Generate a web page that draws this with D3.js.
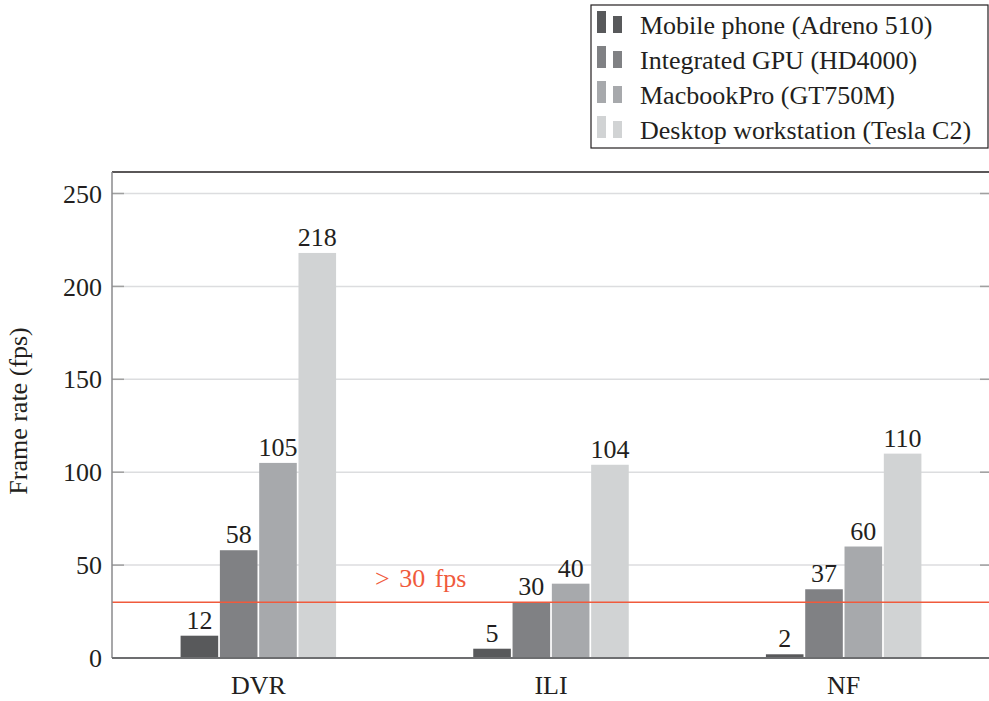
<!DOCTYPE html>
<html>
<head>
<meta charset="utf-8">
<script src="https://cdn.jsdelivr.net/npm/d3@7"></script>
<style>
  body { margin: 0; background: #fff; }
  svg text { font-family: "Liberation Serif", "Times New Roman", serif; fill: #231f20; }
</style>
</head>
<body>
<div id="chart"></div>
<script>
// Data
const categories = ["DVR", "ILI", "NF"];
const seriesNames = [
  "Mobile phone (Adreno 510)",
  "Integrated GPU (HD4000)",
  "MacbookPro (GT750M)",
  "Desktop workstation (Tesla C2)"
];
const mobileValues = [12, 5, 2];
const integratedValues = [58, 30, 37];
const macbookValues = [105, 40, 60];
const desktopValues = [218, 104, 110];
const yTicks = [0, 50, 100, 150, 200, 250];
const thresholdValue = 30;
const thresholdLabel = "> 30 fps";

const seriesValues = [mobileValues, integratedValues, macbookValues, desktopValues];
const seriesColors = ["#58595b", "#808184", "#a7a9ac", "#d1d3d4"];
const thresholdColor = "#f05a3c";

const width = 989, height = 701;
const margin = { top: 172, right: -1, bottom: 43, left: 112 };
const innerW = width - margin.left - margin.right;
const innerH = height - margin.top - margin.bottom;

const svg = d3.select("#chart").append("svg")
  .attr("width", width)
  .attr("height", height);

const g = svg.append("g")
  .attr("transform", `translate(${margin.left}, ${margin.top})`);

// scales
const yMax = 250 * innerH / (innerH - 21.5);
const y = d3.scaleLinear().domain([0, yMax]).range([innerH, 0]);
const x = d3.scalePoint().domain(categories).range([0, innerW]).padding(0.5);
const barStep = 39.3;
const barWidth = 37.6;
const offset = d3.scaleLinear().domain([0, 3]).range([-1.5 * barStep, 1.5 * barStep]);

// grid lines
g.selectAll(".grid")
  .data(yTicks.filter(d => d > 0))
  .enter().append("line")
  .attr("class", "grid")
  .attr("x1", 0).attr("x2", innerW)
  .attr("y1", d => y(d)).attr("y2", d => y(d))
  .attr("stroke", "#dcdddf")
  .attr("stroke-width", 1.5);

// tick marks (inside, left and right)
g.selectAll(".tickL")
  .data(yTicks)
  .enter().append("line")
  .attr("x1", 0).attr("x2", 12)
  .attr("y1", d => y(d)).attr("y2", d => y(d))
  .attr("stroke", "#a0a0a0").attr("stroke-width", 1.5);
g.selectAll(".tickR")
  .data(yTicks)
  .enter().append("line")
  .attr("x1", innerW - 10).attr("x2", innerW)
  .attr("y1", d => y(d)).attr("y2", d => y(d))
  .attr("stroke", "#a0a0a0").attr("stroke-width", 1.5);

// bars
seriesValues.forEach((vals, si) => {
  g.selectAll(".bar-s" + si)
    .data(vals)
    .enter().append("rect")
    .attr("class", "bar bar-s" + si)
    .attr("x", (d, i) => x(categories[i]) + offset(si) - barWidth / 2)
    .attr("y", d => y(d))
    .attr("width", barWidth)
    .attr("height", d => y(0) - y(d))
    .attr("fill", seriesColors[si]);

  g.selectAll(".val-s" + si)
    .data(vals)
    .enter().append("text")
    .attr("x", (d, i) => x(categories[i]) + offset(si))
    .attr("y", d => y(d) - 7)
    .attr("text-anchor", "middle")
    .attr("font-size", 26)
    .text(d => d);
});

// threshold line
g.append("line")
  .attr("x1", 0).attr("x2", innerW)
  .attr("y1", y(thresholdValue)).attr("y2", y(thresholdValue))
  .attr("stroke", thresholdColor)
  .attr("stroke-width", 1.5);
g.append("text")
  .attr("x", 375 - margin.left)
  .attr("y", y(thresholdValue) - 15)
  .attr("font-size", 26)
  .attr("word-spacing", 3)
  .style("fill", thresholdColor)
  .text(thresholdLabel);

// frame
g.append("line")
  .attr("x1", 0).attr("x2", innerW).attr("y1", 0).attr("y2", 0)
  .attr("stroke", "#231f20").attr("stroke-width", 1.5);
g.append("line")
  .attr("x1", 0).attr("x2", 0).attr("y1", 0).attr("y2", innerH)
  .attr("stroke", "#8a8a8c").attr("stroke-width", 1.5);
g.append("line")
  .attr("x1", 0).attr("x2", innerW).attr("y1", innerH).attr("y2", innerH)
  .attr("stroke", "#6d6e70").attr("stroke-width", 2);

// y tick labels
g.selectAll(".ylab")
  .data(yTicks)
  .enter().append("text")
  .attr("x", -10)
  .attr("y", d => y(d))
  .attr("dy", "0.35em")
  .attr("text-anchor", "end")
  .attr("font-size", 26)
  .text(d => d);

// x labels
g.selectAll(".xlab")
  .data(categories)
  .enter().append("text")
  .attr("x", d => x(d))
  .attr("y", innerH + 36)
  .attr("text-anchor", "middle")
  .attr("font-size", 26)
  .text(d => d);

// y axis title
svg.append("text")
  .attr("transform", `translate(27, ${margin.top + innerH / 2 - 4}) rotate(-90)`)
  .attr("text-anchor", "middle")
  .attr("font-size", 26)
  .text("Frame rate (fps)");

// legend
const legend = svg.append("g");
legend.append("rect")
  .attr("x", 591).attr("y", 5)
  .attr("width", 397).attr("height", 143)
  .attr("fill", "#fff")
  .attr("stroke", "#231f20")
  .attr("stroke-width", 1.2);

seriesNames.forEach((name, i) => {
  const base = 34 + i * 35;
  legend.append("rect")
    .attr("x", 597).attr("y", base - 23)
    .attr("width", 9).attr("height", 22)
    .attr("fill", seriesColors[i]);
  legend.append("rect")
    .attr("x", 613).attr("y", base - 18)
    .attr("width", 9).attr("height", 17)
    .attr("fill", seriesColors[i]);
  legend.append("text")
    .attr("x", 640).attr("y", base)
    .attr("font-size", 26)
    .text(name);
});
</script>
</body>
</html>
